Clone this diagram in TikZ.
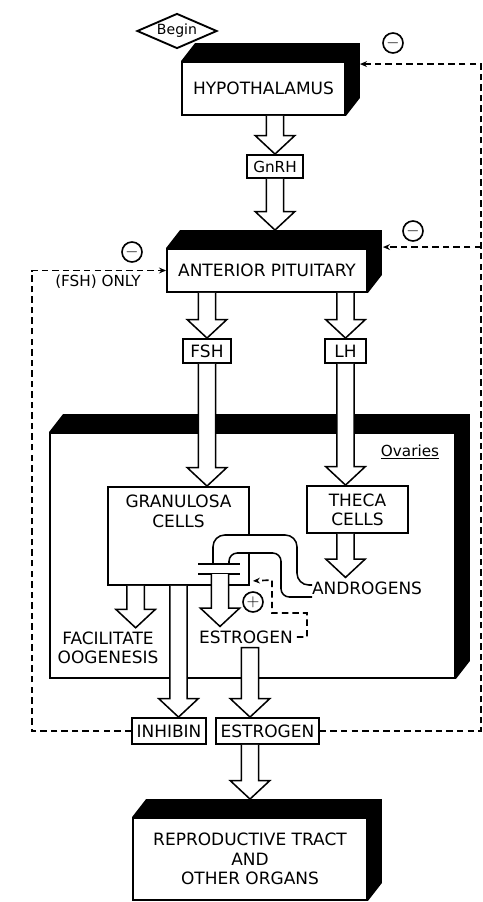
\documentclass[tikz,border=0pt]{standalone}
\usepackage{fontspec}
\setmainfont{DejaVu Sans}
\usetikzlibrary{calc,shapes.geometric,arrows.meta}

\newcommand{\arrshaft}{0.26cm}
\newcommand{\arrhead}{0.59cm}
\newcommand{\arrlen}{0.55cm}
% hollow block arrow, x taken from the first point
\newcommand{\blockarrow}[3][]{%
  \filldraw[hollow] let \p1=#2, \p2=#3 in
    (\x1-\arrshaft,\y1) -- (\x1-\arrshaft,\y2+\arrlen) -- (\x1-\arrhead,\y2+\arrlen)
    -- (\x1,\y2) -- (\x1+\arrhead,\y2+\arrlen) -- (\x1+\arrshaft,\y2+\arrlen)
    -- (\x1+\arrshaft,\y1) #1;}
% black top and right faces of a box
\newcommand{\slabfaces}[1]{%
  \fill (#1.north west) -- ++(14,-18) -- ($(#1.north east)+(14,-18)$)
    -- ($(#1.south east)+(14,-18)$) -- (#1.south east) -- (#1.north east) -- cycle;}

\begin{document}
\begin{tikzpicture}[
  x=0.03cm, y=-0.03cm,
  lbl/.style={font=\fontsize{14.5}{16.5}\selectfont, align=center},
  box/.style={draw, line width=1.6pt, fill=white, inner sep=0pt, lbl},
  hollow/.style={draw, line width=1.3pt, fill=white},
  pipe/.style={line width=1.3pt},
  fb/.style={dash pattern=on 5.5pt off 3.5pt, line width=1.4pt, -{Stealth[length=6pt,width=5pt]}},
  sign/.style={circle, draw, line width=1.4pt, minimum size=0.6cm, inner sep=0pt, font=\Large}
]
\path[use as bounding box, fill=white] (0,0) rectangle (483,902);

\node[box, shape=diamond, aspect=2.3, minimum width=2.4cm, minimum height=1.05cm,
  font=\fontsize{12}{14}\selectfont] (begin) at (177,31) {Begin};
\node[box, minimum width=4.89cm, minimum height=1.59cm] (hyp) at (263.5,88.5) {HYPOTHALAMUS};
\node[box, minimum width=1.68cm, minimum height=0.69cm, font=\fontsize{13}{15}\selectfont] (gnrh) at (275,166.5) {GnRH};
\node[box, minimum width=6cm, minimum height=1.29cm] (pit) at (267,270.5) {ANTERIOR PITUITARY};
\node[lbl, font=\fontsize{13}{15}\selectfont] (fshonly) at (98,282) {(FSH) ONLY};
\node[box, minimum width=1.44cm, minimum height=0.72cm] (fsh) at (207,351) {FSH};
\node[box, minimum width=1.23cm, minimum height=0.72cm] (lh) at (345.5,351) {LH};

% ovaries
\node[box, minimum width=12.15cm, minimum height=7.35cm] (ova) at (252.5,555.5) {};
\node[lbl, font=\fontsize{13}{15}\selectfont] (ovalbl) at (410,452) {\underline{Ovaries}};
\node[box, minimum width=4.23cm, minimum height=2.94cm] (gran) at (178.5,536) {};
\node[lbl, anchor=north] (granlbl) at ($(gran.north)+(0,5)$) {GRANULOSA\\CELLS};
\node[box, minimum width=3.03cm, minimum height=1.41cm] (theca) at (357.5,509.5) {THECA\\CELLS};
\node[lbl] (andro) at (367,588) {ANDROGENS};
\node[lbl] (facil) at (108,648) {FACILITATE\\OOGENESIS};
\node[lbl] (estl) at (246,637) {ESTROGEN};

\node[box, minimum width=2.22cm, minimum height=0.78cm] (inh) at (169,731) {INHIBIN};
\node[box, minimum width=3.09cm, minimum height=0.78cm] (est) at (267.5,731) {ESTROGEN};
\node[box, minimum width=7.02cm, minimum height=2.46cm] (rep) at (250,859) {REPRODUCTIVE TRACT\\AND\\OTHER ORGANS};

\foreach \b in {hyp,pit,ova,rep}
  \slabfaces{\b};

\node[sign] (neghyp) at (393,43) {$-$};
\node[sign] (negpit) at (413,231) {$-$};
\node[sign] (negfsh) at (132,252) {$-$};
\node[sign] (posest) at (253,602) {$+$};

% androgens carried over to the granulosa cells
\fill[white, rounded corners=0.25cm] (213,564) -- (213,535) -- (297,535) -- (297,585) -- (312,585)
  -- (312,597) -- (281,597) -- (281,553) -- (229,553) -- (229,564) -- cycle;
\draw[pipe, rounded corners=0.35cm] (213,564) -- (213,535) -- (297,535) -- (297,585) -- (312,585);
\draw[pipe, rounded corners=0.25cm] (229,564) -- (229,553) -- (281,553) -- (281,597) -- (312,597);
\draw[pipe] (198,564) -- (240,564) (198,574) -- (240,574);

\blockarrow{(gnrh |- hyp.south)}{(gnrh.north)}
\blockarrow{(gnrh.south)}{($(gnrh |- pit.north)+(0,-18)$)}
\blockarrow{(fsh |- pit.south)}{(fsh.north)}
\blockarrow{(lh |- pit.south)}{(lh.north)}
\blockarrow{(fsh.south)}{(fsh |- gran.north)}
\blockarrow{(lh.south)}{(lh |- theca.north)}
\blockarrow{(lh |- theca.south)}{(lh |- andro.north)}
\coordinate (facin) at ($(gran.south west)!0.2!(gran.south east)$);
\blockarrow{(facin)}{(facin |- facil.north)}
\blockarrow{(gran.south)}{(gran.south |- inh.north)}
\coordinate (pipeend) at (220,574);
\blockarrow{(pipeend)}{(pipeend |- estl.north)}
\blockarrow[-- cycle]{(rep |- estl.south)}{(rep |- est.north)}
\blockarrow{(rep |- est.south)}{($(rep.north)+(0,-18)$)}

% feedback
\coordinate (fbR) at (481,0);
\coordinate (fbL) at (32,0);
\coordinate (hypin) at ($(hyp.north east)+(14,3)$);
\coordinate (pitin) at ($(pit.north east)+(15,-1)$);
\draw[fb] (est.east) -- (est.east -| fbR) -- (fbR |- hypin) -- (hypin);
\draw[fb] (fbR |- pitin) -- (pitin);
\draw[fb] (inh.west) -- (inh.west -| fbL) -- (fbL |- pit.west) -- (pit.west);
\draw[fb] (estl.east) -- ++(10,0) -- ++(0,-24) -- ++(-35,0) -- ++(0,-33) -- ($(gran.south east)+(3,-5)$);
\end{tikzpicture}
\end{document}
